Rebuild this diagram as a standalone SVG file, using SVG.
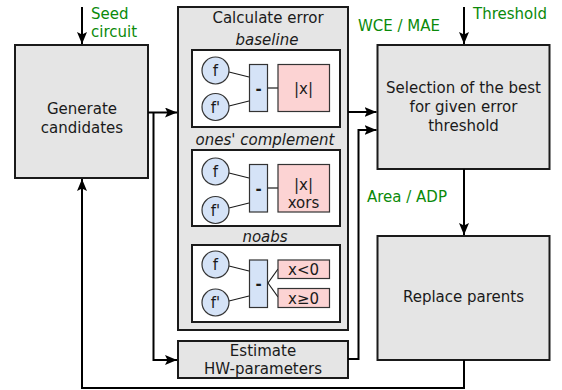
<svg xmlns="http://www.w3.org/2000/svg" width="562" height="390" viewBox="0 0 562 390">
<defs>
<marker id="ah" markerWidth="12" markerHeight="10" refX="12" refY="5" orient="auto" markerUnits="userSpaceOnUse">
<path d="M0,0 L12,5 L0,10 L2.5,5 z" fill="#000"/>
</marker>
<style>
.big{fill:#e5e5e5;stroke:#1a1a1a;stroke-width:2}
.inner{fill:#fff;stroke:#1a1a1a;stroke-width:2}
.circ{fill:#d5e3f7;stroke:#333;stroke-width:1.2}
.minus{fill:#d5e3f7;stroke:#333;stroke-width:1.2}
.pink{fill:#fcd3d3;stroke:#333;stroke-width:1.2}
.thin{stroke:#1a1a1a;stroke-width:1.2;fill:none}
text{font-family:"DejaVu Sans","Liberation Sans",sans-serif;font-size:15px;fill:#1a1a1a}
.c{text-anchor:middle}
.it{font-style:italic}
.b{font-weight:bold}
.g{fill:#0a8a0a}
.conn{stroke:#000;stroke-width:2;fill:none}
</style>
</defs>

<g id="generate">
<rect class="big" x="15" y="45" width="133" height="133"/>
<text class="c" x="82" y="114">Generate</text>
<text class="c" x="82" y="133">candidates</text>
</g>

<g id="calc-error">
<rect class="big" x="178" y="7" width="170" height="323"/>
<text class="c" x="268" y="23">Calculate error</text>
<text class="c it" x="267" y="45">baseline</text>
<text class="c it" x="265" y="145">ones' complement</text>
<text class="c it" x="265" y="242">noabs</text>
</g>

<g id="baseline">
<rect class="inner" x="192" y="50" width="148" height="77"/>
<line class="thin" x1="229" y1="72" x2="249" y2="77"/>
<line class="thin" x1="229" y1="106" x2="249" y2="101"/>
<line class="thin" x1="268" y1="88" x2="278" y2="88"/>
<circle class="circ" cx="215.5" cy="70.5" r="13.5"/>
<circle class="circ" cx="215.5" cy="107" r="13.5"/>
<rect class="minus" x="249.5" y="64.5" width="18" height="47"/>
<rect class="pink" x="278" y="64.5" width="51.5" height="47"/>
<text class="c" x="215.5" y="76">f</text>
<text class="c" x="215.5" y="113">f'</text>
<text class="c b" x="258.5" y="94">-</text>
<text class="c" x="303.5" y="94">|x|</text>
</g>

<g id="ones-complement">
<rect class="inner" x="192" y="150" width="148" height="76"/>
<line class="thin" x1="229" y1="173" x2="249" y2="178"/>
<line class="thin" x1="229" y1="208" x2="249" y2="203"/>
<line class="thin" x1="268" y1="188" x2="278" y2="188"/>
<circle class="circ" cx="215.5" cy="171.5" r="13.5"/>
<circle class="circ" cx="215.5" cy="210" r="13.5"/>
<rect class="minus" x="249.5" y="164.5" width="18" height="47.5"/>
<rect class="pink" x="278" y="164.5" width="51.5" height="47.5"/>
<text class="c" x="215.5" y="177">f</text>
<text class="c" x="215.5" y="216">f'</text>
<text class="c b" x="258.5" y="194">-</text>
<text class="c" x="303.5" y="190">|x|</text>
<text class="c" x="303.5" y="208">xors</text>
</g>

<g id="noabs">
<rect class="inner" x="192" y="245" width="148" height="77"/>
<line class="thin" x1="229" y1="266" x2="249" y2="271"/>
<line class="thin" x1="229" y1="301" x2="249" y2="296"/>
<line class="thin" x1="268" y1="283" x2="278" y2="269"/>
<line class="thin" x1="268" y1="283" x2="278" y2="297"/>
<circle class="circ" cx="215.5" cy="264.5" r="13.5"/>
<circle class="circ" cx="215.5" cy="302.5" r="13.5"/>
<rect class="minus" x="249.5" y="260" width="18" height="47.5"/>
<rect class="pink" x="278" y="260" width="51.5" height="18.5"/>
<rect class="pink" x="278" y="288.5" width="51.5" height="19"/>
<text class="c" x="215.5" y="270">f</text>
<text class="c" x="215.5" y="308">f'</text>
<text class="c b" x="258.5" y="289">-</text>
<text class="c" x="303.5" y="275">x&lt;0</text>
<text class="c" x="303.5" y="304">x≥0</text>
</g>

<g id="estimate">
<rect class="big" x="178" y="341" width="170" height="37"/>
<text class="c" x="263" y="356">Estimate</text>
<text class="c" x="263" y="374">HW-parameters</text>
</g>

<g id="selection">
<rect class="big" x="377.5" y="45" width="172" height="124"/>
<text class="c" x="463.5" y="93">Selection of the best</text>
<text class="c" x="463.5" y="112">for given error</text>
<text class="c" x="463.5" y="131">threshold</text>
</g>

<g id="replace">
<rect class="big" x="377.5" y="236" width="172" height="124"/>
<text class="c" x="463.5" y="302">Replace parents</text>
</g>

<g id="labels">
<text class="g" x="91" y="19">Seed</text>
<text class="g" x="91" y="37">circuit</text>
<text class="g" x="473" y="19">Threshold</text>
<text class="g" x="358" y="31">WCE / MAE</text>
<text class="g" x="367" y="202">Area / ADP</text>
</g>

<g id="connectors">
<path class="conn" d="M82,7 V44" marker-end="url(#ah)"/>
<path class="conn" d="M464,7 V44" marker-end="url(#ah)"/>
<path class="conn" d="M148,112.5 H177" marker-end="url(#ah)"/>
<path class="conn" d="M153.5,112.5 V360 H177" marker-end="url(#ah)"/>
<path class="conn" d="M348,112 H376.5" marker-end="url(#ah)"/>
<path class="conn" d="M348,359 H358.5 V130 H376.5" marker-end="url(#ah)"/>
<path class="conn" d="M464,169 V235" marker-end="url(#ah)"/>
<path class="conn" d="M464,360 V388 H82 V179" marker-end="url(#ah)"/>
</g>
</svg>
